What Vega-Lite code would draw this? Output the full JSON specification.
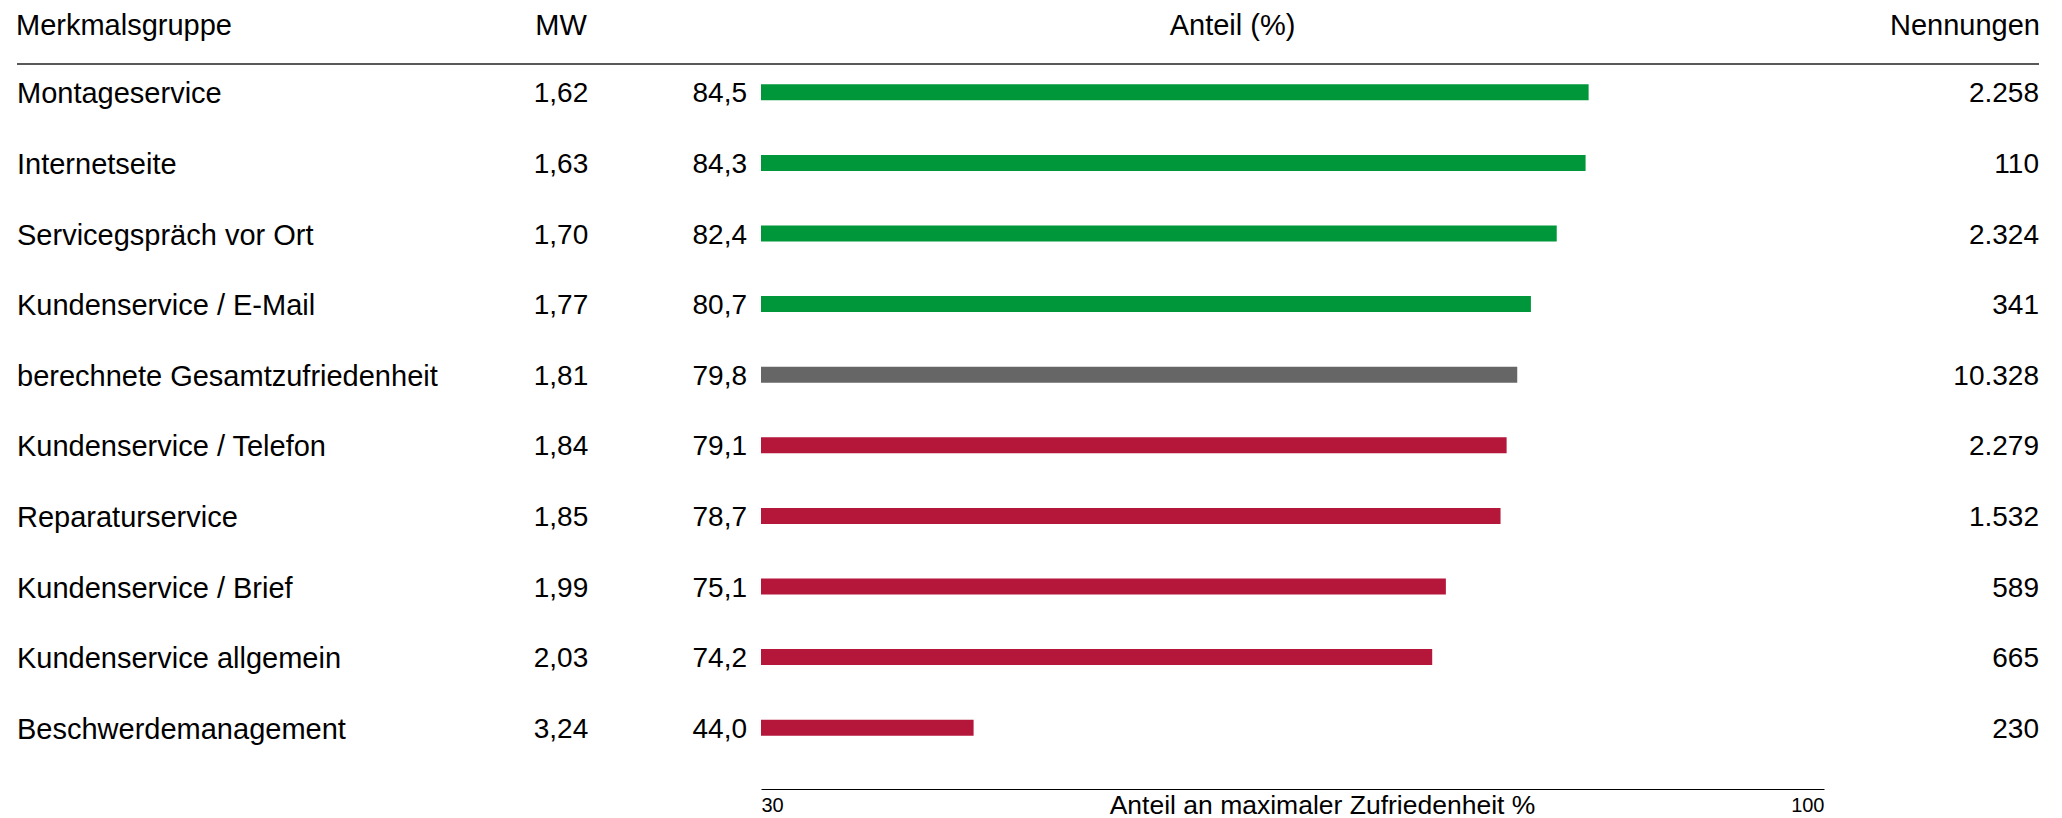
{
  "$schema": "https://vega.github.io/schema/vega-lite/v6.json",
  "padding": {"left": 16, "right": 24, "top": 12, "bottom": 0},
  "bounds": "flush",
  "data": {"values": [
    {"nr": 1, "Merkmalsgruppe": "Montageservice", "mw": 1.62, "anteil": 84.5, "nennungen": 2258, "typ": "besser"},
    {"nr": 2, "Merkmalsgruppe": "Internetseite", "mw": 1.63, "anteil": 84.3, "nennungen": 110, "typ": "besser"},
    {"nr": 3, "Merkmalsgruppe": "Servicegspräch vor Ort", "mw": 1.70, "anteil": 82.4, "nennungen": 2324, "typ": "besser"},
    {"nr": 4, "Merkmalsgruppe": "Kundenservice / E-Mail", "mw": 1.77, "anteil": 80.7, "nennungen": 341, "typ": "besser"},
    {"nr": 5, "Merkmalsgruppe": "berechnete Gesamtzufriedenheit", "mw": 1.81, "anteil": 79.8, "nennungen": 10328, "typ": "gesamt"},
    {"nr": 6, "Merkmalsgruppe": "Kundenservice / Telefon", "mw": 1.84, "anteil": 79.1, "nennungen": 2279, "typ": "schlechter"},
    {"nr": 7, "Merkmalsgruppe": "Reparaturservice", "mw": 1.85, "anteil": 78.7, "nennungen": 1532, "typ": "schlechter"},
    {"nr": 8, "Merkmalsgruppe": "Kundenservice / Brief", "mw": 1.99, "anteil": 75.1, "nennungen": 589, "typ": "schlechter"},
    {"nr": 9, "Merkmalsgruppe": "Kundenservice allgemein", "mw": 2.03, "anteil": 74.2, "nennungen": 665, "typ": "schlechter"},
    {"nr": 10, "Merkmalsgruppe": "Beschwerdemanagement", "mw": 3.24, "anteil": 44.0, "nennungen": 230, "typ": "schlechter"}
  ]},
  "config": {
    "font": "Liberation Sans",
    "view": {"stroke": null},
    "concat": {"spacing": 0},
    "locale": {"number": {"decimal": ",", "thousands": ".", "grouping": [3], "currency": ["", " €"]}},
    "title": {"fontSize": 29, "fontWeight": "normal", "color": "#000000", "baseline": "alphabetic", "offset": 16, "font": "Liberation Sans"},
    "text": {"fontSize": 28, "color": "#000000", "baseline": "middle"}
  },
  "hconcat": [
    {
      "width": 484, "height": 706,
      "title": {"text": "Merkmalsgruppe", "anchor": "start"},
      "encoding": {"y": {"field": "Merkmalsgruppe", "type": "nominal", "sort": null, "axis": null, "scale": {"paddingInner": 0, "paddingOuter": 0}}},
      "layer": [
        {"mark": {"type": "text", "align": "left", "dy": 2, "fontSize": 29}, "encoding": {"x": {"value": 0}, "text": {"field": "Merkmalsgruppe", "type": "nominal"}}},
        {"mark": {"type": "rule", "color": "#595959", "strokeWidth": 2}, "encoding": {"y": {"datum": "Montageservice", "type": "nominal", "bandPosition": 0.1}}}
      ]
    },
    {
      "width": 120, "height": 706,
      "title": {"text": "MW", "anchor": "middle"},
      "encoding": {"y": {"field": "Merkmalsgruppe", "type": "nominal", "sort": null, "axis": null, "scale": {"paddingInner": 0, "paddingOuter": 0}}},
      "layer": [
        {"mark": {"type": "text", "align": "center", "dy": 2}, "encoding": {"x": {"value": 60}, "text": {"field": "mw", "type": "quantitative", "format": ".2f"}}},
        {"mark": {"type": "rule", "color": "#595959", "strokeWidth": 2}, "encoding": {"y": {"datum": "Montageservice", "type": "nominal", "bandPosition": 0.1}}}
      ]
    },
    {
      "width": 140, "height": 706,
      "title": {"text": " ", "anchor": "middle"},
      "encoding": {"y": {"field": "Merkmalsgruppe", "type": "nominal", "sort": null, "axis": null, "scale": {"paddingInner": 0, "paddingOuter": 0}}},
      "layer": [
        {"mark": {"type": "text", "align": "right", "dy": 2}, "encoding": {"x": {"value": 126}, "text": {"field": "anteil", "type": "quantitative", "format": ".1f"}}},
        {"mark": {"type": "rule", "color": "#595959", "strokeWidth": 2}, "encoding": {"y": {"datum": "Montageservice", "type": "nominal", "bandPosition": 0.1}}}
      ]
    },
    {
      "width": 1063, "height": 706,
      "title": {"text": "Anteil (%)", "anchor": "middle", "dx": -60},
      "encoding": {"y": {"field": "Merkmalsgruppe", "type": "nominal", "sort": null, "axis": null, "scale": {"paddingInner": 0, "paddingOuter": 0}}},
      "layer": [
        {"mark": {"type": "bar", "height": 16},
         "encoding": {
           "x": {"field": "anteil", "type": "quantitative", "scale": {"domain": [30, 100], "nice": false, "zero": false},
                 "axis": {"values": [30, 100], "format": "d", "title": "Anteil an maximaler Zufriedenheit %", "orient": "bottom", "offset": 26, "ticks": false, "grid": false, "domainColor": "#000000", "domainWidth": 1, "labelFlush": true, "labelFontSize": 20, "labelPadding": 6, "labelColor": "#000000", "titleFontSize": 26.5, "titleFontWeight": "normal", "titleColor": "#000000", "titleX": 561, "titleY": 24, "titleAlign": "center", "titleBaseline": "alphabetic"}},
           "x2": {"datum": 30},
           "color": {"field": "typ", "type": "nominal", "scale": {"domain": ["besser", "gesamt", "schlechter"], "range": ["#00963A", "#666666", "#B5173B"]}, "legend": null}
         }},
        {"mark": {"type": "rule", "color": "#595959", "strokeWidth": 2}, "encoding": {"y": {"datum": "Montageservice", "type": "nominal", "bandPosition": 0.1}}}
      ]
    },
    {
      "width": 215, "height": 706,
      "title": {"text": "Nennungen", "anchor": "end"},
      "encoding": {"y": {"field": "Merkmalsgruppe", "type": "nominal", "sort": null, "axis": null, "scale": {"paddingInner": 0, "paddingOuter": 0}}},
      "layer": [
        {"mark": {"type": "text", "align": "right", "dy": 2}, "encoding": {"x": {"value": 215}, "text": {"field": "nennungen", "type": "quantitative", "format": ",d"}}},
        {"mark": {"type": "rule", "color": "#595959", "strokeWidth": 2}, "encoding": {"y": {"datum": "Montageservice", "type": "nominal", "bandPosition": 0.1}}}
      ]
    }
  ]
}
